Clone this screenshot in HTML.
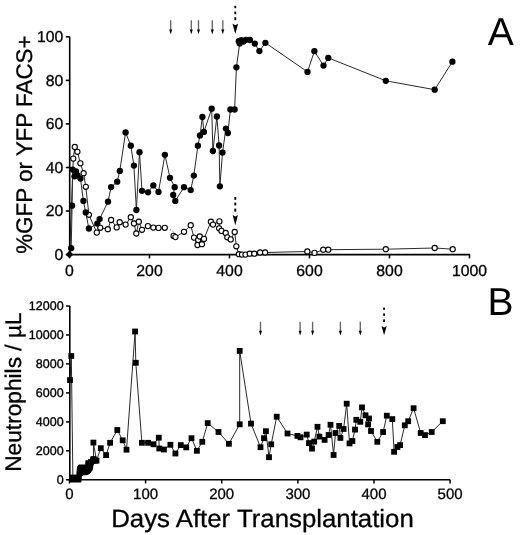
<!DOCTYPE html>
<html><head><meta charset="utf-8"><style>
html,body{margin:0;padding:0;background:#fff;}
svg{display:block;will-change:transform;}
text{text-rendering:geometricPrecision;}
text{font-family:"Liberation Sans",sans-serif;fill:#000;}
.ta{font-size:15.8px;stroke:#000;stroke-width:0.3px;}
.tb{font-size:12.5px;stroke:#000;stroke-width:0.35px;}
.tc{font-size:15px;stroke:#000;stroke-width:0.3px;}
.big{font-size:39px;}
.ylab{font-size:22.6px;stroke:#000;stroke-width:0.3px;}
.xlab{font-size:25px;stroke:#000;stroke-width:0.3px;}
</style></head><body>
<svg width="520" height="535" viewBox="0 0 520 535">
<rect width="520" height="535" fill="#fff"/>
<polyline fill="none" stroke="#2a2a2a" stroke-width="1.0" stroke-linejoin="round" points="69.6,254.2 73.3,158.6 74.8,147.0 77.4,151.8 80.4,163.3 83.6,173.2 85.8,186.8 88.9,214.8 96.8,232.6 100.3,227.8 107.8,229.2 111.1,220.0 116.7,227.4 119.7,222.2 125.6,224.6 130.8,217.2 134.0,223.5 136.3,233.5 138.8,221.7 142.0,229.8 147.9,226.1 153.3,227.6 158.5,227.9 164.8,227.8"/>
<polyline fill="none" stroke="#2a2a2a" stroke-width="1.0" stroke-linejoin="round" points="173.6,235.9 175.4,237.1 184.0,231.8 190.7,225.2 194.0,237.6 197.5,245.0 198.2,239.9 201.9,244.2 199.8,236.5 204.0,238.9 210.9,221.7 213.0,224.6 219.4,221.4 219.1,228.3 221.5,230.9 225.7,233.0 227.3,237.3 230.7,239.4 234.7,232.0 236.3,246.3 238.9,254.2 242.0,254.6 245.5,254.6 249.7,253.7 254.3,253.7 260.1,252.5 265.1,252.5 307.3,251.5 314.5,252.9 323.2,249.7 328.3,249.7 385.8,249.2 434.7,248.0 452.7,249.2"/>

<polyline fill="none" stroke="#2a2a2a" stroke-width="1.0" stroke-linejoin="round" points="69.6,254.2 71.2,248.2 72.1,205.7 72.6,169.6 76.0,171.5 74.5,176.3 77.4,175.4 80.5,178.6 83.4,200.9 85.7,212.4 88.9,228.5 97.3,223.6 99.6,219.1 108.0,201.7 111.1,187.1 117.2,181.7 119.8,170.9 125.6,132.4 130.8,145.7 133.9,165.6 136.4,210.0 139.5,152.2 142.0,190.8 148.0,192.3 153.3,185.4 158.5,191.9 164.9,154.8 170.0,177.8 174.7,187.2 173.2,195.0 175.3,200.9 184.0,187.2 190.7,190.1 193.8,175.6 197.9,145.7 200.0,135.4 202.4,117.0 203.9,131.9 211.7,108.7 212.9,151.0 216.9,116.5 219.1,145.5 219.9,186.3 222.5,152.6 225.9,128.6 227.9,133.0 230.4,109.5 234.6,109.5 236.4,67.3 239.7,43.4 238.8,41.2 241.4,40.1 243.5,41.5 245.9,39.8 249.9,40.0 254.8,43.6 259.4,51.1 265.4,42.8 307.5,71.9 314.4,51.2 323.5,65.6 328.3,57.9 385.8,80.8 434.7,89.7 452.4,61.7"/>

<polyline fill="none" stroke="#2a2a2a" stroke-width="1.0" stroke-linejoin="round" points="70.0,380.1 71.3,356.0 72.9,477.5 75.5,479.0 78.5,477.5 80.0,473.0 83.0,470.0 86.0,468.0 88.5,465.0 91.0,462.0 93.5,459.0 93.4,442.6 96.5,460.5 100.8,448.2 106.1,455.1 110.1,442.8 117.3,430.0 122.7,440.3 126.5,449.7 135.1,331.5 135.8,362.8 141.9,442.8 148.1,442.8 153.5,444.3 158.8,437.7 159.3,448.5 163.9,449.5 170.4,444.8 175.4,453.5 180.8,445.1 186.2,447.4 191.5,438.2 196.9,450.8 202.3,441.8 207.7,423.1 218.5,432.0 228.9,443.8 239.7,424.3 239.7,350.9 251.0,423.6 260.5,447.2 264.0,438.2 265.9,431.2 269.0,457.2 271.2,444.3 276.7,416.7 287.5,433.5 297.4,435.9 300.5,437.3 306.7,434.6 309.0,443.1 312.0,448.6 314.2,441.6 317.5,426.8 319.4,436.6 324.6,439.9 328.6,435.0 330.5,424.8 333.6,455.0 335.5,433.0 339.2,425.9 340.4,437.9 343.6,429.0 346.7,403.7 349.5,443.4 352.4,441.0 355.0,429.6 356.3,419.8 360.3,421.8 362.0,407.4 365.5,415.3 369.0,418.5 368.1,424.4 371.0,431.0 377.3,441.8 383.1,432.0 386.8,415.7 392.3,419.1 394.1,451.8 397.4,447.0 400.1,445.1 404.8,425.3 408.2,421.2 413.6,408.2 420.7,433.0 425.0,435.1 431.7,432.0 442.8,421.2"/>

<line x1="170" y1="229.4" x2="171.2" y2="230.2" stroke="#888" stroke-width="1"/><line x1="172.4" y1="231.2" x2="174.2" y2="232.6" stroke="#888" stroke-width="1"/>
<path d="M69.7,36.8 V254.6 H470" fill="none" stroke="#000" stroke-width="1.6"/>
<line x1="65.8" y1="254.6" x2="69.7" y2="254.6" stroke="#000" stroke-width="1.6"/>
<text x="63.3" y="259.8" text-anchor="end" class="ta">0</text>
<line x1="65.8" y1="211.0" x2="69.7" y2="211.0" stroke="#000" stroke-width="1.6"/>
<text x="63.3" y="216.2" text-anchor="end" class="ta">20</text>
<line x1="65.8" y1="167.5" x2="69.7" y2="167.5" stroke="#000" stroke-width="1.6"/>
<text x="63.3" y="172.7" text-anchor="end" class="ta">40</text>
<line x1="65.8" y1="123.9" x2="69.7" y2="123.9" stroke="#000" stroke-width="1.6"/>
<text x="63.3" y="129.1" text-anchor="end" class="ta">60</text>
<line x1="65.8" y1="80.4" x2="69.7" y2="80.4" stroke="#000" stroke-width="1.6"/>
<text x="63.3" y="85.6" text-anchor="end" class="ta">80</text>
<line x1="65.8" y1="36.8" x2="69.7" y2="36.8" stroke="#000" stroke-width="1.6"/>
<text x="63.3" y="42.0" text-anchor="end" class="ta">100</text>
<line x1="69.5" y1="254.6" x2="69.5" y2="258.4" stroke="#000" stroke-width="1.5"/>
<text x="69.5" y="276.3" text-anchor="middle" class="ta">0</text>
<line x1="149.5" y1="254.6" x2="149.5" y2="258.4" stroke="#000" stroke-width="1.5"/>
<text x="149.5" y="276.3" text-anchor="middle" class="ta">200</text>
<line x1="229.5" y1="254.6" x2="229.5" y2="258.4" stroke="#000" stroke-width="1.5"/>
<text x="229.5" y="276.3" text-anchor="middle" class="ta">400</text>
<line x1="309.5" y1="254.6" x2="309.5" y2="258.4" stroke="#000" stroke-width="1.5"/>
<text x="309.5" y="276.3" text-anchor="middle" class="ta">600</text>
<line x1="389.5" y1="254.6" x2="389.5" y2="258.4" stroke="#000" stroke-width="1.5"/>
<text x="389.5" y="276.3" text-anchor="middle" class="ta">800</text>
<line x1="469.5" y1="254.6" x2="469.5" y2="258.4" stroke="#000" stroke-width="1.5"/>
<text x="469.5" y="276.3" text-anchor="middle" class="ta">1000</text>
<path d="M69.8,306.0 V479.8 H450.1" fill="none" stroke="#000" stroke-width="1.6"/>
<line x1="66" y1="479.8" x2="69.8" y2="479.8" stroke="#000" stroke-width="1.5"/>
<text x="63.6" y="484.2" text-anchor="end" class="tb">0</text>
<line x1="66" y1="450.8" x2="69.8" y2="450.8" stroke="#000" stroke-width="1.5"/>
<text x="63.6" y="455.2" text-anchor="end" class="tb">2000</text>
<line x1="66" y1="421.9" x2="69.8" y2="421.9" stroke="#000" stroke-width="1.5"/>
<text x="63.6" y="426.3" text-anchor="end" class="tb">4000</text>
<line x1="66" y1="392.9" x2="69.8" y2="392.9" stroke="#000" stroke-width="1.5"/>
<text x="63.6" y="397.3" text-anchor="end" class="tb">6000</text>
<line x1="66" y1="363.9" x2="69.8" y2="363.9" stroke="#000" stroke-width="1.5"/>
<text x="63.6" y="368.3" text-anchor="end" class="tb">8000</text>
<line x1="66" y1="335.0" x2="69.8" y2="335.0" stroke="#000" stroke-width="1.5"/>
<text x="63.6" y="339.4" text-anchor="end" class="tb">10000</text>
<line x1="66" y1="306.0" x2="69.8" y2="306.0" stroke="#000" stroke-width="1.5"/>
<text x="63.6" y="310.4" text-anchor="end" class="tb">12000</text>
<line x1="69.5" y1="479.8" x2="69.5" y2="483.5" stroke="#000" stroke-width="1.5"/>
<text x="69.5" y="498.8" text-anchor="middle" class="tc">0</text>
<line x1="145.6" y1="479.8" x2="145.6" y2="483.5" stroke="#000" stroke-width="1.5"/>
<text x="145.6" y="498.8" text-anchor="middle" class="tc">100</text>
<line x1="221.7" y1="479.8" x2="221.7" y2="483.5" stroke="#000" stroke-width="1.5"/>
<text x="221.7" y="498.8" text-anchor="middle" class="tc">200</text>
<line x1="297.9" y1="479.8" x2="297.9" y2="483.5" stroke="#000" stroke-width="1.5"/>
<text x="297.9" y="498.8" text-anchor="middle" class="tc">300</text>
<line x1="374.0" y1="479.8" x2="374.0" y2="483.5" stroke="#000" stroke-width="1.5"/>
<text x="374.0" y="498.8" text-anchor="middle" class="tc">400</text>
<line x1="450.1" y1="479.8" x2="450.1" y2="483.5" stroke="#000" stroke-width="1.5"/>
<text x="450.1" y="498.8" text-anchor="middle" class="tc">500</text>
<circle cx="73.3" cy="158.6" r="2.6" fill="#fff" stroke="#000" stroke-width="1.1"/>
<circle cx="74.8" cy="147" r="2.6" fill="#fff" stroke="#000" stroke-width="1.1"/>
<circle cx="77.4" cy="151.8" r="2.6" fill="#fff" stroke="#000" stroke-width="1.1"/>
<circle cx="80.4" cy="163.3" r="2.6" fill="#fff" stroke="#000" stroke-width="1.1"/>
<circle cx="83.6" cy="173.2" r="2.6" fill="#fff" stroke="#000" stroke-width="1.1"/>
<circle cx="85.8" cy="186.8" r="2.6" fill="#fff" stroke="#000" stroke-width="1.1"/>
<circle cx="88.9" cy="214.8" r="2.6" fill="#fff" stroke="#000" stroke-width="1.1"/>
<circle cx="96.8" cy="232.6" r="2.6" fill="#fff" stroke="#000" stroke-width="1.1"/>
<circle cx="100.3" cy="227.8" r="2.6" fill="#fff" stroke="#000" stroke-width="1.1"/>
<circle cx="107.8" cy="229.2" r="2.6" fill="#fff" stroke="#000" stroke-width="1.1"/>
<circle cx="111.1" cy="220" r="2.6" fill="#fff" stroke="#000" stroke-width="1.1"/>
<circle cx="116.7" cy="227.4" r="2.6" fill="#fff" stroke="#000" stroke-width="1.1"/>
<circle cx="119.7" cy="222.2" r="2.6" fill="#fff" stroke="#000" stroke-width="1.1"/>
<circle cx="125.6" cy="224.6" r="2.6" fill="#fff" stroke="#000" stroke-width="1.1"/>
<circle cx="130.8" cy="217.2" r="2.6" fill="#fff" stroke="#000" stroke-width="1.1"/>
<circle cx="134" cy="223.5" r="2.6" fill="#fff" stroke="#000" stroke-width="1.1"/>
<circle cx="136.3" cy="233.5" r="2.6" fill="#fff" stroke="#000" stroke-width="1.1"/>
<circle cx="138.8" cy="221.7" r="2.6" fill="#fff" stroke="#000" stroke-width="1.1"/>
<circle cx="142" cy="229.8" r="2.6" fill="#fff" stroke="#000" stroke-width="1.1"/>
<circle cx="147.9" cy="226.1" r="2.6" fill="#fff" stroke="#000" stroke-width="1.1"/>
<circle cx="153.3" cy="227.6" r="2.6" fill="#fff" stroke="#000" stroke-width="1.1"/>
<circle cx="158.5" cy="227.9" r="2.6" fill="#fff" stroke="#000" stroke-width="1.1"/>
<circle cx="164.8" cy="227.8" r="2.6" fill="#fff" stroke="#000" stroke-width="1.1"/>
<circle cx="173.6" cy="235.9" r="2.6" fill="#fff" stroke="#000" stroke-width="1.1"/>
<circle cx="175.4" cy="237.1" r="2.6" fill="#fff" stroke="#000" stroke-width="1.1"/>
<circle cx="184" cy="231.8" r="2.6" fill="#fff" stroke="#000" stroke-width="1.1"/>
<circle cx="190.7" cy="225.2" r="2.6" fill="#fff" stroke="#000" stroke-width="1.1"/>
<circle cx="194" cy="237.6" r="2.6" fill="#fff" stroke="#000" stroke-width="1.1"/>
<circle cx="197.5" cy="245" r="2.6" fill="#fff" stroke="#000" stroke-width="1.1"/>
<circle cx="198.2" cy="239.9" r="2.6" fill="#fff" stroke="#000" stroke-width="1.1"/>
<circle cx="201.9" cy="244.2" r="2.6" fill="#fff" stroke="#000" stroke-width="1.1"/>
<circle cx="199.8" cy="236.5" r="2.6" fill="#fff" stroke="#000" stroke-width="1.1"/>
<circle cx="204" cy="238.9" r="2.6" fill="#fff" stroke="#000" stroke-width="1.1"/>
<circle cx="210.9" cy="221.7" r="2.6" fill="#fff" stroke="#000" stroke-width="1.1"/>
<circle cx="213" cy="224.6" r="2.6" fill="#fff" stroke="#000" stroke-width="1.1"/>
<circle cx="219.4" cy="221.4" r="2.6" fill="#fff" stroke="#000" stroke-width="1.1"/>
<circle cx="219.1" cy="228.3" r="2.6" fill="#fff" stroke="#000" stroke-width="1.1"/>
<circle cx="221.5" cy="230.9" r="2.6" fill="#fff" stroke="#000" stroke-width="1.1"/>
<circle cx="225.7" cy="233" r="2.6" fill="#fff" stroke="#000" stroke-width="1.1"/>
<circle cx="227.3" cy="237.3" r="2.6" fill="#fff" stroke="#000" stroke-width="1.1"/>
<circle cx="230.7" cy="239.4" r="2.6" fill="#fff" stroke="#000" stroke-width="1.1"/>
<circle cx="234.7" cy="232" r="2.6" fill="#fff" stroke="#000" stroke-width="1.1"/>
<circle cx="236.3" cy="246.3" r="2.6" fill="#fff" stroke="#000" stroke-width="1.1"/>
<circle cx="238.9" cy="254.2" r="2.6" fill="#fff" stroke="#000" stroke-width="1.1"/>
<circle cx="242" cy="254.6" r="2.6" fill="#fff" stroke="#000" stroke-width="1.1"/>
<circle cx="245.5" cy="254.6" r="2.6" fill="#fff" stroke="#000" stroke-width="1.1"/>
<circle cx="249.7" cy="253.7" r="2.6" fill="#fff" stroke="#000" stroke-width="1.1"/>
<circle cx="254.3" cy="253.7" r="2.6" fill="#fff" stroke="#000" stroke-width="1.1"/>
<circle cx="260.1" cy="252.5" r="2.6" fill="#fff" stroke="#000" stroke-width="1.1"/>
<circle cx="265.1" cy="252.5" r="2.6" fill="#fff" stroke="#000" stroke-width="1.1"/>
<circle cx="307.3" cy="251.5" r="2.6" fill="#fff" stroke="#000" stroke-width="1.1"/>
<circle cx="314.5" cy="252.9" r="2.6" fill="#fff" stroke="#000" stroke-width="1.1"/>
<circle cx="323.2" cy="249.7" r="2.6" fill="#fff" stroke="#000" stroke-width="1.1"/>
<circle cx="328.3" cy="249.7" r="2.6" fill="#fff" stroke="#000" stroke-width="1.1"/>
<circle cx="385.8" cy="249.2" r="2.6" fill="#fff" stroke="#000" stroke-width="1.1"/>
<circle cx="434.7" cy="248" r="2.6" fill="#fff" stroke="#000" stroke-width="1.1"/>
<circle cx="452.7" cy="249.2" r="2.6" fill="#fff" stroke="#000" stroke-width="1.1"/>
<circle cx="71.2" cy="248.2" r="3.15" fill="#000"/>
<circle cx="72.1" cy="205.7" r="3.15" fill="#000"/>
<circle cx="72.6" cy="169.6" r="3.15" fill="#000"/>
<circle cx="76" cy="171.5" r="3.15" fill="#000"/>
<circle cx="74.5" cy="176.3" r="3.15" fill="#000"/>
<circle cx="77.4" cy="175.4" r="3.15" fill="#000"/>
<circle cx="80.5" cy="178.6" r="3.15" fill="#000"/>
<circle cx="83.4" cy="200.9" r="3.15" fill="#000"/>
<circle cx="85.7" cy="212.4" r="3.15" fill="#000"/>
<circle cx="88.9" cy="228.5" r="3.15" fill="#000"/>
<circle cx="97.3" cy="223.6" r="3.15" fill="#000"/>
<circle cx="99.6" cy="219.1" r="3.15" fill="#000"/>
<circle cx="108" cy="201.7" r="3.15" fill="#000"/>
<circle cx="111.1" cy="187.1" r="3.15" fill="#000"/>
<circle cx="117.2" cy="181.7" r="3.15" fill="#000"/>
<circle cx="119.8" cy="170.9" r="3.15" fill="#000"/>
<circle cx="125.6" cy="132.4" r="3.15" fill="#000"/>
<circle cx="130.8" cy="145.7" r="3.15" fill="#000"/>
<circle cx="133.9" cy="165.6" r="3.15" fill="#000"/>
<circle cx="136.4" cy="210" r="3.15" fill="#000"/>
<circle cx="139.5" cy="152.2" r="3.15" fill="#000"/>
<circle cx="142" cy="190.8" r="3.15" fill="#000"/>
<circle cx="148" cy="192.3" r="3.15" fill="#000"/>
<circle cx="153.3" cy="185.4" r="3.15" fill="#000"/>
<circle cx="158.5" cy="191.9" r="3.15" fill="#000"/>
<circle cx="164.9" cy="154.8" r="3.15" fill="#000"/>
<circle cx="170" cy="177.8" r="3.15" fill="#000"/>
<circle cx="174.7" cy="187.2" r="3.15" fill="#000"/>
<circle cx="173.2" cy="195" r="3.15" fill="#000"/>
<circle cx="175.3" cy="200.9" r="3.15" fill="#000"/>
<circle cx="184" cy="187.2" r="3.15" fill="#000"/>
<circle cx="190.7" cy="190.1" r="3.15" fill="#000"/>
<circle cx="193.8" cy="175.6" r="3.15" fill="#000"/>
<circle cx="197.9" cy="145.7" r="3.15" fill="#000"/>
<circle cx="200" cy="135.4" r="3.15" fill="#000"/>
<circle cx="202.4" cy="117" r="3.15" fill="#000"/>
<circle cx="203.9" cy="131.9" r="3.15" fill="#000"/>
<circle cx="211.7" cy="108.7" r="3.15" fill="#000"/>
<circle cx="212.9" cy="151" r="3.15" fill="#000"/>
<circle cx="216.9" cy="116.5" r="3.15" fill="#000"/>
<circle cx="219.1" cy="145.5" r="3.15" fill="#000"/>
<circle cx="219.9" cy="186.3" r="3.15" fill="#000"/>
<circle cx="222.5" cy="152.6" r="3.15" fill="#000"/>
<circle cx="225.9" cy="128.6" r="3.15" fill="#000"/>
<circle cx="227.9" cy="133" r="3.15" fill="#000"/>
<circle cx="230.4" cy="109.5" r="3.15" fill="#000"/>
<circle cx="234.6" cy="109.5" r="3.15" fill="#000"/>
<circle cx="236.4" cy="67.3" r="3.15" fill="#000"/>
<circle cx="239.7" cy="43.4" r="3.15" fill="#000"/>
<circle cx="238.8" cy="41.2" r="3.15" fill="#000"/>
<circle cx="241.4" cy="40.1" r="3.15" fill="#000"/>
<circle cx="243.5" cy="41.5" r="3.15" fill="#000"/>
<circle cx="245.9" cy="39.8" r="3.15" fill="#000"/>
<circle cx="249.9" cy="40" r="3.15" fill="#000"/>
<circle cx="254.8" cy="43.6" r="3.15" fill="#000"/>
<circle cx="259.4" cy="51.1" r="3.15" fill="#000"/>
<circle cx="265.4" cy="42.8" r="3.15" fill="#000"/>
<circle cx="307.5" cy="71.9" r="3.15" fill="#000"/>
<circle cx="314.4" cy="51.2" r="3.15" fill="#000"/>
<circle cx="323.5" cy="65.6" r="3.15" fill="#000"/>
<circle cx="328.3" cy="57.9" r="3.15" fill="#000"/>
<circle cx="385.8" cy="80.8" r="3.15" fill="#000"/>
<circle cx="434.7" cy="89.7" r="3.15" fill="#000"/>
<circle cx="452.4" cy="61.7" r="3.15" fill="#000"/>
<path d="M69.5,250.6 L73.3,254.4 L69.5,258.2 L65.7,254.4Z" fill="#000"/>
<rect x="67.10" y="377.20" width="5.8" height="5.8" fill="#000"/>
<rect x="68.40" y="353.10" width="5.8" height="5.8" fill="#000"/>
<rect x="70.00" y="474.60" width="5.8" height="5.8" fill="#000"/>
<rect x="72.60" y="476.10" width="5.8" height="5.8" fill="#000"/>
<rect x="75.60" y="474.60" width="5.8" height="5.8" fill="#000"/>
<rect x="77.10" y="470.10" width="5.8" height="5.8" fill="#000"/>
<rect x="80.10" y="467.10" width="5.8" height="5.8" fill="#000"/>
<rect x="83.10" y="465.10" width="5.8" height="5.8" fill="#000"/>
<rect x="85.60" y="462.10" width="5.8" height="5.8" fill="#000"/>
<rect x="88.10" y="459.10" width="5.8" height="5.8" fill="#000"/>
<rect x="90.60" y="456.10" width="5.8" height="5.8" fill="#000"/>
<rect x="90.50" y="439.70" width="5.8" height="5.8" fill="#000"/>
<rect x="93.60" y="457.60" width="5.8" height="5.8" fill="#000"/>
<rect x="97.90" y="445.30" width="5.8" height="5.8" fill="#000"/>
<rect x="103.20" y="452.20" width="5.8" height="5.8" fill="#000"/>
<rect x="107.20" y="439.90" width="5.8" height="5.8" fill="#000"/>
<rect x="114.40" y="427.10" width="5.8" height="5.8" fill="#000"/>
<rect x="119.80" y="437.40" width="5.8" height="5.8" fill="#000"/>
<rect x="123.60" y="446.80" width="5.8" height="5.8" fill="#000"/>
<rect x="132.20" y="328.60" width="5.8" height="5.8" fill="#000"/>
<rect x="132.90" y="359.90" width="5.8" height="5.8" fill="#000"/>
<rect x="139.00" y="439.90" width="5.8" height="5.8" fill="#000"/>
<rect x="145.20" y="439.90" width="5.8" height="5.8" fill="#000"/>
<rect x="150.60" y="441.40" width="5.8" height="5.8" fill="#000"/>
<rect x="155.90" y="434.80" width="5.8" height="5.8" fill="#000"/>
<rect x="156.40" y="445.60" width="5.8" height="5.8" fill="#000"/>
<rect x="161.00" y="446.60" width="5.8" height="5.8" fill="#000"/>
<rect x="167.50" y="441.90" width="5.8" height="5.8" fill="#000"/>
<rect x="172.50" y="450.60" width="5.8" height="5.8" fill="#000"/>
<rect x="177.90" y="442.20" width="5.8" height="5.8" fill="#000"/>
<rect x="183.30" y="444.50" width="5.8" height="5.8" fill="#000"/>
<rect x="188.60" y="435.30" width="5.8" height="5.8" fill="#000"/>
<rect x="194.00" y="447.90" width="5.8" height="5.8" fill="#000"/>
<rect x="199.40" y="438.90" width="5.8" height="5.8" fill="#000"/>
<rect x="204.80" y="420.20" width="5.8" height="5.8" fill="#000"/>
<rect x="215.60" y="429.10" width="5.8" height="5.8" fill="#000"/>
<rect x="226.00" y="440.90" width="5.8" height="5.8" fill="#000"/>
<rect x="236.80" y="421.40" width="5.8" height="5.8" fill="#000"/>
<rect x="236.80" y="348.00" width="5.8" height="5.8" fill="#000"/>
<rect x="248.10" y="420.70" width="5.8" height="5.8" fill="#000"/>
<rect x="257.60" y="444.30" width="5.8" height="5.8" fill="#000"/>
<rect x="261.10" y="435.30" width="5.8" height="5.8" fill="#000"/>
<rect x="263.00" y="428.30" width="5.8" height="5.8" fill="#000"/>
<rect x="266.10" y="454.30" width="5.8" height="5.8" fill="#000"/>
<rect x="268.30" y="441.40" width="5.8" height="5.8" fill="#000"/>
<rect x="273.80" y="413.80" width="5.8" height="5.8" fill="#000"/>
<rect x="284.60" y="430.60" width="5.8" height="5.8" fill="#000"/>
<rect x="294.50" y="433.00" width="5.8" height="5.8" fill="#000"/>
<rect x="297.60" y="434.40" width="5.8" height="5.8" fill="#000"/>
<rect x="303.80" y="431.70" width="5.8" height="5.8" fill="#000"/>
<rect x="306.10" y="440.20" width="5.8" height="5.8" fill="#000"/>
<rect x="309.10" y="445.70" width="5.8" height="5.8" fill="#000"/>
<rect x="311.30" y="438.70" width="5.8" height="5.8" fill="#000"/>
<rect x="314.60" y="423.90" width="5.8" height="5.8" fill="#000"/>
<rect x="316.50" y="433.70" width="5.8" height="5.8" fill="#000"/>
<rect x="321.70" y="437.00" width="5.8" height="5.8" fill="#000"/>
<rect x="325.70" y="432.10" width="5.8" height="5.8" fill="#000"/>
<rect x="327.60" y="421.90" width="5.8" height="5.8" fill="#000"/>
<rect x="330.70" y="452.10" width="5.8" height="5.8" fill="#000"/>
<rect x="332.60" y="430.10" width="5.8" height="5.8" fill="#000"/>
<rect x="336.30" y="423.00" width="5.8" height="5.8" fill="#000"/>
<rect x="337.50" y="435.00" width="5.8" height="5.8" fill="#000"/>
<rect x="340.70" y="426.10" width="5.8" height="5.8" fill="#000"/>
<rect x="343.80" y="400.80" width="5.8" height="5.8" fill="#000"/>
<rect x="346.60" y="440.50" width="5.8" height="5.8" fill="#000"/>
<rect x="349.50" y="438.10" width="5.8" height="5.8" fill="#000"/>
<rect x="352.10" y="426.70" width="5.8" height="5.8" fill="#000"/>
<rect x="353.40" y="416.90" width="5.8" height="5.8" fill="#000"/>
<rect x="357.40" y="418.90" width="5.8" height="5.8" fill="#000"/>
<rect x="359.10" y="404.50" width="5.8" height="5.8" fill="#000"/>
<rect x="362.60" y="412.40" width="5.8" height="5.8" fill="#000"/>
<rect x="366.10" y="415.60" width="5.8" height="5.8" fill="#000"/>
<rect x="365.20" y="421.50" width="5.8" height="5.8" fill="#000"/>
<rect x="368.10" y="428.10" width="5.8" height="5.8" fill="#000"/>
<rect x="374.40" y="438.90" width="5.8" height="5.8" fill="#000"/>
<rect x="380.20" y="429.10" width="5.8" height="5.8" fill="#000"/>
<rect x="383.90" y="412.80" width="5.8" height="5.8" fill="#000"/>
<rect x="389.40" y="416.20" width="5.8" height="5.8" fill="#000"/>
<rect x="391.20" y="448.90" width="5.8" height="5.8" fill="#000"/>
<rect x="394.50" y="444.10" width="5.8" height="5.8" fill="#000"/>
<rect x="397.20" y="442.20" width="5.8" height="5.8" fill="#000"/>
<rect x="401.90" y="422.40" width="5.8" height="5.8" fill="#000"/>
<rect x="405.30" y="418.30" width="5.8" height="5.8" fill="#000"/>
<rect x="410.70" y="405.30" width="5.8" height="5.8" fill="#000"/>
<rect x="417.80" y="430.10" width="5.8" height="5.8" fill="#000"/>
<rect x="422.10" y="432.20" width="5.8" height="5.8" fill="#000"/>
<rect x="428.80" y="429.10" width="5.8" height="5.8" fill="#000"/>
<rect x="439.90" y="418.30" width="5.8" height="5.8" fill="#000"/>
<path d="M69.8,482.5 L69.8,474.9 L76.4,474.9 L76.4,472.8 L77.1,466.5 L78.8,464.5 L85.4,464.5 L85.4,460.3 L90.2,460.3 L90.2,457.2 L96.5,457.2 L98.5,458.9 L98.5,463.4 L93.7,464.1 L92.7,470 L90.2,473.5 L87.5,474.9 L81.9,475.5 L81.2,482.5Z" fill="#000"/>
<line x1="170.7" y1="20.2" x2="170.7" y2="29.900000000000002" stroke="#666" stroke-width="1.35"/><path d="M169.2,29.400000000000002 L172.2,29.400000000000002 L170.7,34.2Z" fill="#000"/>
<line x1="191.3" y1="20.2" x2="191.3" y2="29.900000000000002" stroke="#666" stroke-width="1.35"/><path d="M189.8,29.400000000000002 L192.8,29.400000000000002 L191.3,34.2Z" fill="#000"/>
<line x1="198.5" y1="20.2" x2="198.5" y2="29.900000000000002" stroke="#666" stroke-width="1.35"/><path d="M197.0,29.400000000000002 L200.0,29.400000000000002 L198.5,34.2Z" fill="#000"/>
<line x1="212.3" y1="20.2" x2="212.3" y2="29.900000000000002" stroke="#666" stroke-width="1.35"/><path d="M210.8,29.400000000000002 L213.8,29.400000000000002 L212.3,34.2Z" fill="#000"/>
<line x1="222.8" y1="20.2" x2="222.8" y2="29.900000000000002" stroke="#666" stroke-width="1.35"/><path d="M221.3,29.400000000000002 L224.3,29.400000000000002 L222.8,34.2Z" fill="#000"/>
<line x1="235.3" y1="5.8" x2="235.3" y2="8.2" stroke="#000" stroke-width="1.9"/><line x1="235.3" y1="11.6" x2="235.3" y2="14.2" stroke="#000" stroke-width="1.9"/><line x1="235.3" y1="17.2" x2="235.3" y2="20.2" stroke="#000" stroke-width="1.9"/><path d="M232.5,23.8 L235.3,25.3 L238.10000000000002,23.8 L235.3,34Z" fill="#000"/>
<line x1="235.3" y1="197" x2="235.3" y2="199.8" stroke="#000" stroke-width="1.9"/><line x1="235.3" y1="202.6" x2="235.3" y2="205.4" stroke="#000" stroke-width="1.9"/><line x1="235.3" y1="208.6" x2="235.3" y2="211.6" stroke="#000" stroke-width="1.9"/><path d="M232.70000000000002,215 L235.3,216.5 L237.9,215 L235.3,225.4Z" fill="#000"/>
<line x1="260.5" y1="321.7" x2="260.5" y2="331.3" stroke="#666" stroke-width="1.35"/><path d="M259.0,330.8 L262.0,330.8 L260.5,335.6Z" fill="#000"/>
<line x1="300.1" y1="321.7" x2="300.1" y2="331.3" stroke="#666" stroke-width="1.35"/><path d="M298.6,330.8 L301.6,330.8 L300.1,335.6Z" fill="#000"/>
<line x1="312.6" y1="321.7" x2="312.6" y2="331.3" stroke="#666" stroke-width="1.35"/><path d="M311.1,330.8 L314.1,330.8 L312.6,335.6Z" fill="#000"/>
<line x1="340.4" y1="321.7" x2="340.4" y2="331.3" stroke="#666" stroke-width="1.35"/><path d="M338.9,330.8 L341.9,330.8 L340.4,335.6Z" fill="#000"/>
<line x1="360.3" y1="321.7" x2="360.3" y2="331.3" stroke="#666" stroke-width="1.35"/><path d="M358.8,330.8 L361.8,330.8 L360.3,335.6Z" fill="#000"/>
<line x1="384.1" y1="307.6" x2="384.1" y2="309.8" stroke="#000" stroke-width="1.9"/><line x1="384.1" y1="313.4" x2="384.1" y2="315.8" stroke="#000" stroke-width="1.9"/><line x1="384.1" y1="319.4" x2="384.1" y2="322" stroke="#000" stroke-width="1.9"/><path d="M381.5,326 L384.1,327.5 L386.70000000000005,326 L384.1,335.3Z" fill="#000"/>
<text x="513.8" y="44.8" text-anchor="end" class="big">A</text>
<text x="513.5" y="314.8" text-anchor="end" class="big">B</text>
<text transform="translate(32.4,253.8) rotate(-90)" class="ylab" textLength="218.4" lengthAdjust="spacingAndGlyphs">%GFP or YFP FACS+</text>
<text transform="translate(21.4,471.8) rotate(-90)" class="ylab" textLength="159.4" lengthAdjust="spacingAndGlyphs">Neutrophils / µL</text>
<text x="111.2" y="526.8" class="xlab" textLength="302.6" lengthAdjust="spacingAndGlyphs">Days After Transplantation</text>
</svg>
</body></html>
